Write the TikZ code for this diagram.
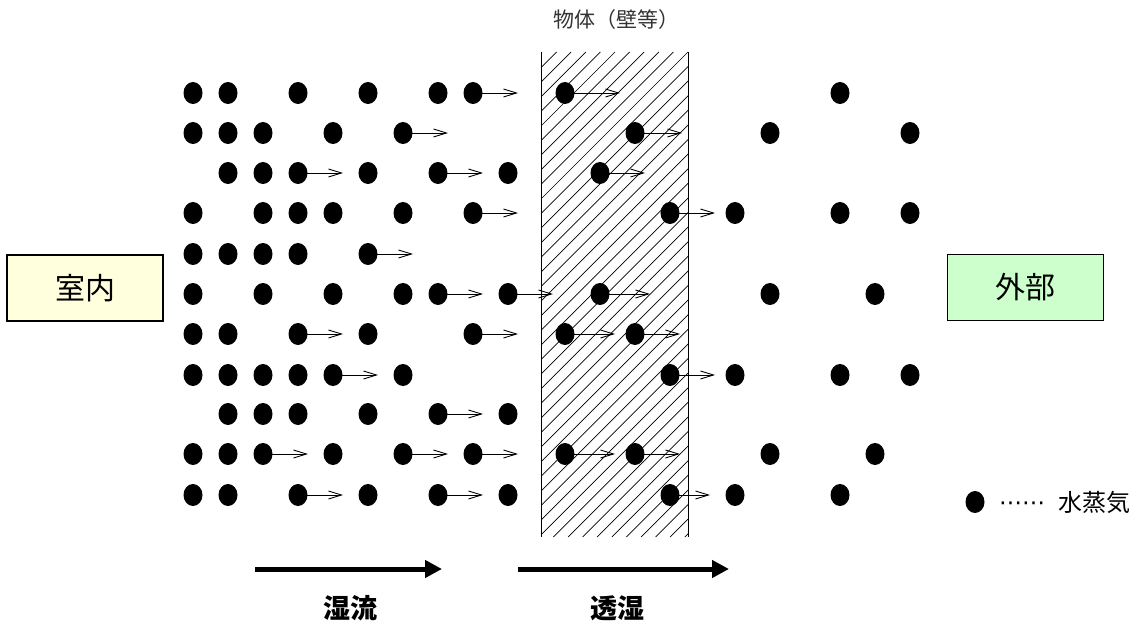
\documentclass[tikz,border=0pt]{standalone}
\usepackage{fontspec}
\newfontfamily\jp{Noto Sans CJK JP}
\newfontfamily\sym{DejaVu Sans}
\usetikzlibrary{arrows.meta,shapes.geometric}
\definecolor{inbox}{HTML}{FFFFDD}
\definecolor{outbox}{HTML}{CCFFCC}
\tikzset{
 vdot/.style={ellipse,fill=black,minimum width=19pt,minimum height=22pt,inner sep=0pt},
 flow/.style={line width=0.9pt,-{Straight Barb[length=13pt,width=8pt]}},
 bigflow/.style={line width=5pt,-{Triangle[length=17pt,width=17pt]}},
 sidebox/.style={draw,line width=1.2pt,minimum width=156pt,minimum height=66pt,font=\jp\fontsize{30}{32}\selectfont},
 hatch/.style={line width=0.7pt},
 wallside/.style={line width=1.2pt},
 lbl/.style={font=\jp\bfseries\fontsize{27}{29}\selectfont},
}
\begin{document}
\begin{tikzpicture}[x=1pt,y=-1pt]
\useasboundingbox (0,0) rectangle (1138,628);
% wall
\node[minimum width=146pt,minimum height=485pt,inner sep=0pt] (wall) at (615,294.5) {};
\begin{scope}
\clip (wall.south west) rectangle (wall.north east);
\foreach \k in {0,...,45} \draw[hatch] (57+\k*14.6,537) -- ++(485,-485);
\end{scope}
\draw[wallside] (wall.north west) -- (wall.south west);
\draw[wallside] (wall.north east) -- (wall.south east);
\node[font=\jp\fontsize{21}{22}\selectfont,text=black!80] (title) at (616,20) {物体（壁等）};
% dots
\foreach \y/\row in {
 93/{193/0,228/0,298/0,368/0,438/0,473/45,565/55,840/0},
 133/{193/0,228/0,263/0,333/0,403/45,635/47,770/0,910/0},
 173/{228/0,263/0,298/45,368/0,438/45,508/0,600/45},
 213/{193/0,263/0,298/0,333/0,403/0,473/45,670/45,735/0,840/0,910/0},
 254/{193/0,228/0,263/0,298/0,368/45},
 294/{193/0,263/0,333/0,403/0,438/45,508/45,600/50,770/0,875/0},
 334/{193/0,228/0,298/45,368/0,473/45,565/50,635/45},
 375/{193/0,228/0,263/0,298/0,333/45,403/0,670/45,735/0,840/0,910/0},
 414/{228/0,263/0,298/0,368/0,438/45,508/0},
 454/{193/0,228/0,263/45,333/0,403/45,473/45,565/50,635/45,770/0,875/0},
 495/{193/0,228/0,298/45,368/0,438/45,508/0,670/40,735/0,840/0}} {
  \foreach \x/\a in \row {
    \node[vdot] (d-\x-\y) at (\x,\y) {};
    \ifnum\a>0
      \coordinate (e-\x-\y) at (\x+\a,\y);
      \draw[flow] (d-\x-\y.center) -- (e-\x-\y);
    \fi
  }
}
% side boxes
\node[sidebox,fill=inbox] (inside) at (85,288) {室内};
\node[sidebox,fill=outbox] (outside) at (1025.5,287.5) {外部};
% legend
\node[vdot] (legdot) at (975,502) {};
\node[anchor=west,inner sep=0pt] (legtxt) at (999,502) {{\sym\fontsize{23}{24}\selectfont\raisebox{1pt}{⋯⋯}}\hspace{13pt}{\jp\fontsize{24}{26}\selectfont 水蒸気}};
% big arrows
\coordinate (f1s) at (255,569); \coordinate (f1e) at (442,569);
\coordinate (f2s) at (518,569); \coordinate (f2e) at (729,569);
\draw[bigflow] (f1s) -- (f1e);
\draw[bigflow] (f2s) -- (f2e);
\node[lbl] (lbl1) at (350,608) {湿流};
\node[lbl] (lbl2) at (617,608) {透湿};
\end{tikzpicture}
\end{document}
